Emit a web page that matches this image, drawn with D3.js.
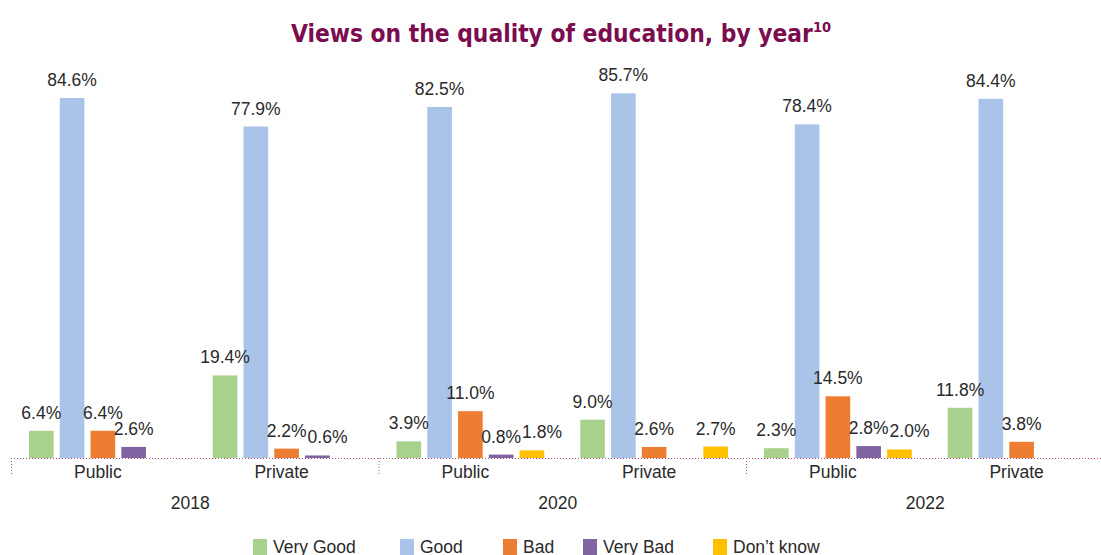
<!DOCTYPE html>
<html>
<head>
<meta charset="utf-8">
<script src="https://cdn.jsdelivr.net/npm/d3@7"></script>
<style>
  body { margin: 0; background: #fff; }
  svg { display: block; }
</style>
</head>
<body>
<div id="chart"></div>
<script>
var width = 1101,
    height = 555;

// categories
var years = ["2018", "2020", "2022"];
var sectors = ["Public", "Private"];
var series = ["Very Good", "Good", "Bad", "Very Bad", "Don\u2019t know"];
var colors = ["#a9d18e", "#a9c4e8", "#ed7d31", "#8064a2", "#ffc000"];

// values per series, one entry per year/sector column (null = no bar)
var veryGood = [6.4, 19.4, 3.9, 9.0, 2.3, 11.8];
var good     = [84.6, 77.9, 82.5, 85.7, 78.4, 84.4];
var bad      = [6.4, 2.2, 11.0, 2.6, 14.5, 3.8];
var veryBad  = [2.6, 0.6, 0.8, null, 2.8, null];
var dontKnow = [null, null, 1.8, 2.7, 2.0, null];
var seriesValues = [veryGood, good, bad, veryBad, dontKnow];

var columns = [];
years.forEach(function (y) {
    sectors.forEach(function (s) { columns.push({year: y, sector: s, key: y + "|" + s}); });
});

var bars = [];
columns.forEach(function (c, ci) {
    series.forEach(function (s, si) {
        var v = seriesValues[si][ci];
        if (v != null) bars.push({col: c.key, series: s, idx: si, value: v});
    });
});

var svg = d3.select("#chart").append("svg")
    .attr("width", width)
    .attr("height", height);

var baseY = 458;
var left = 11, right = 1113.5;
var font = "'Liberation Sans', Arial, sans-serif";
var textColor = "#2a2a2a";

var x0 = d3.scaleBand().domain(columns.map(function (c) { return c.key; }))
    .range([left, right]).padding(0);
var x1 = d3.scaleBand().domain(series)
    .range([18, x0.bandwidth() - 18]).paddingInner(0.2).paddingOuter(0);
var y = d3.scaleLinear().domain([0, 84.6]).range([baseY, 98]);
var color = d3.scaleOrdinal().domain(series).range(colors);

// title
var title = svg.append("text")
    .attr("x", 561)
    .attr("y", 42)
    .attr("text-anchor", "middle")
    .attr("fill", "#7b0c4e")
    .attr("font-family", "'DejaVu Sans Condensed', 'DejaVu Sans', sans-serif")
    .attr("font-weight", "bold")
    .attr("font-size", 24.3)
    .text("Views on the quality of education, by year");
title.append("tspan")
    .attr("font-size", 14.5)
    .attr("dy", -10)
    .text("10");

// bars
svg.append("g").selectAll("rect")
    .data(bars)
    .enter().append("rect")
    .attr("x", function (d) { return x0(d.col) + x1(d.series); })
    .attr("y", function (d) { return y(d.value); })
    .attr("width", x1.bandwidth())
    .attr("height", function (d) { return baseY - y(d.value); })
    .attr("fill", function (d) { return color(d.series); });

// value labels
var labels = svg.append("g").selectAll("text")
    .data(bars)
    .enter().append("text")
    .attr("x", function (d) { return x0(d.col) + x1(d.series) + x1.bandwidth() / 2; })
    .attr("y", function (d) { return y(d.value) - 12; })
    .attr("text-anchor", "middle")
    .attr("font-family", font)
    .attr("font-size", 17.5)
    .attr("fill", textColor)
    .text(function (d) { return d.value.toFixed(1) + "%"; });

// push overlapping labels to the right, within each column
var placed = [];
labels.each(function (d) {
    var node = d3.select(this);
    var b = this.getBBox();
    var box = {x: b.x, y: b.y, w: b.width, h: b.height};
    placed.forEach(function (p) {
        if (p.col !== d.col) return;
        var overlapY = box.y < p.y + p.h - 4 && box.y + box.h - 4 > p.y;
        var overlapX = box.x < p.x + p.w && box.x + box.w > p.x;
        if (overlapY && overlapX) {
            var shift = p.x + p.w + 1 - box.x;
            box.x += shift;
            node.attr("x", +node.attr("x") + shift);
        }
    });
    box.col = d.col;
    placed.push(box);
});

// axis line (dotted)
var axisColor = "#b0507a";
svg.append("line")
    .attr("x1", left).attr("x2", width)
    .attr("y1", baseY + 0.5).attr("y2", baseY + 0.5)
    .attr("stroke", axisColor)
    .attr("stroke-width", 1)
    .attr("stroke-dasharray", "1,2");

// year separators
var x2 = d3.scaleBand().domain(years).range([left, right]);
svg.append("g").selectAll("line")
    .data(years)
    .enter().append("line")
    .attr("x1", function (d) { return x2(d) + 0.5; })
    .attr("x2", function (d) { return x2(d) + 0.5; })
    .attr("y1", baseY)
    .attr("y2", baseY + 18)
    .attr("stroke", axisColor)
    .attr("stroke-dasharray", "1,2");

// sector labels
svg.append("g").selectAll("text")
    .data(columns)
    .enter().append("text")
    .attr("x", function (d) { return x0(d.key) + x0.bandwidth() / 2 - 5; })
    .attr("y", 478)
    .attr("text-anchor", "middle")
    .attr("font-family", font)
    .attr("font-size", 17.5)
    .attr("fill", textColor)
    .text(function (d) { return d.sector; });

// year labels
svg.append("g").selectAll("text")
    .data(years)
    .enter().append("text")
    .attr("x", function (d) { return x2(d) + x2.bandwidth() / 2 - 4.5; })
    .attr("y", 509)
    .attr("text-anchor", "middle")
    .attr("font-family", font)
    .attr("font-size", 17.5)
    .attr("fill", textColor)
    .text(function (d) { return d; });

// legend
var legendX = [253, 400, 503, 583, 713];
var legend = svg.append("g").selectAll("g")
    .data(series)
    .enter().append("g")
    .attr("transform", function (d, i) { return "translate(" + legendX[i] + ",539)"; });
legend.append("rect")
    .attr("width", 14)
    .attr("height", 16)
    .attr("fill", function (d) { return color(d); });
legend.append("text")
    .attr("x", 20)
    .attr("y", 13.5)
    .attr("font-family", font)
    .attr("font-size", 17.5)
    .attr("fill", textColor)
    .text(function (d) { return d; });
</script>
</body>
</html>
